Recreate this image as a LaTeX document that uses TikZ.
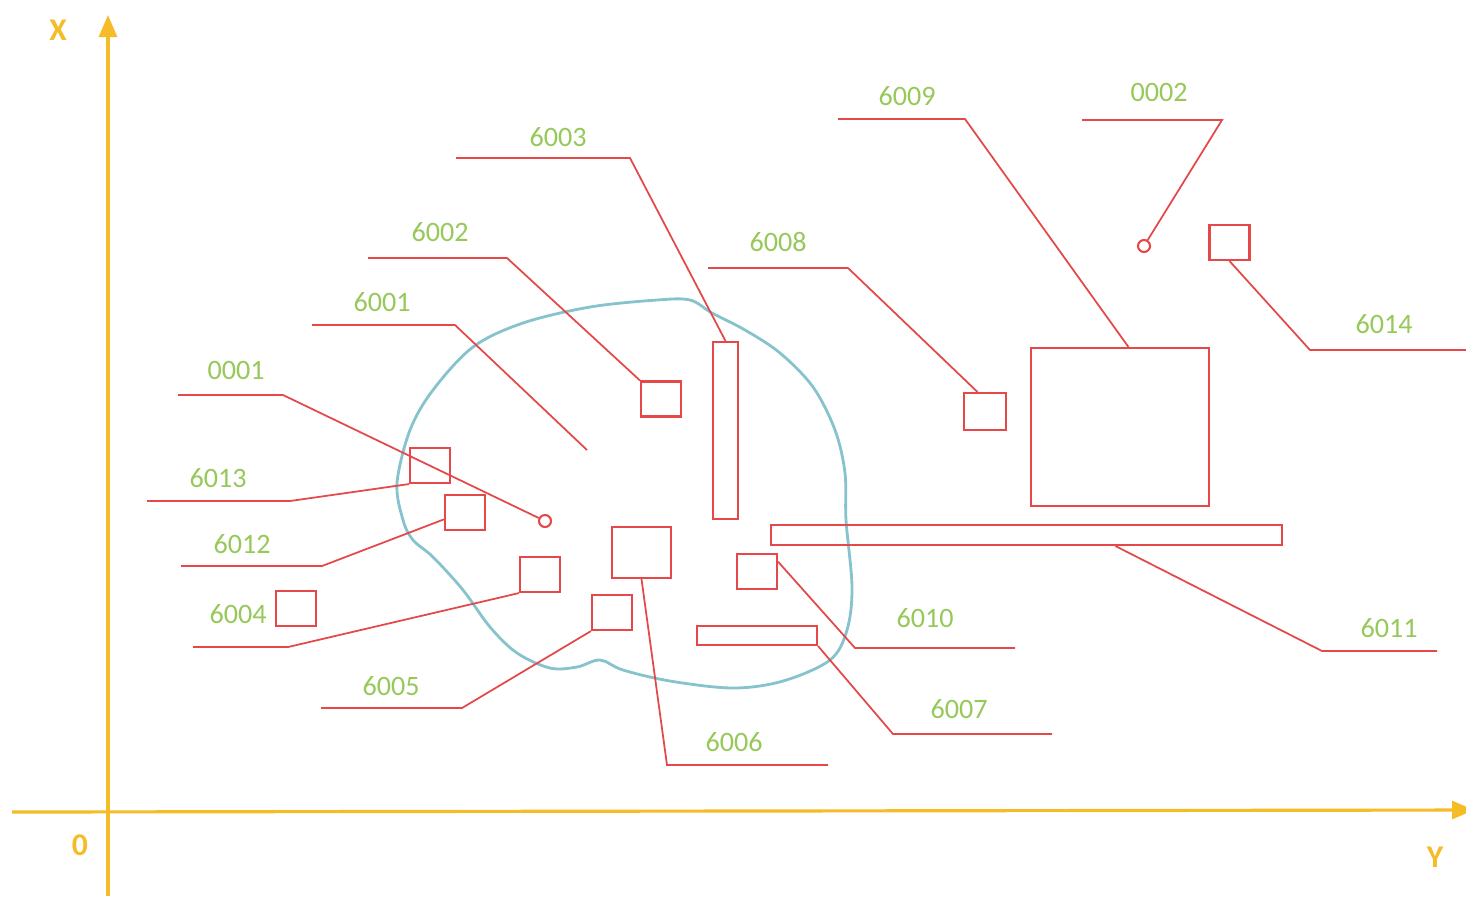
\documentclass[tikz,border=0pt]{standalone}
\usepackage{fontspec}
\setmainfont{Carlito}
\usepackage{tikz}
\usetikzlibrary{arrows.meta,calc}
\definecolor{axisgold}{RGB}{245,188,40}
\definecolor{partred}{RGB}{228,72,72}
\definecolor{numgreen}{RGB}{150,200,90}
\definecolor{zoneblue}{RGB}{135,195,205}
\tikzset{
  axis/.style={draw=axisgold, line width=0.9pt, -{Triangle[length=2.2mm,width=1.8mm]}},
  axlbl/.style={font=\fontsize{9}{10}\selectfont\bfseries, text=axisgold},
  part/.style={draw=partred, line width=0.6pt, inner sep=0pt},
  sq/.style={part, minimum width=4mm, minimum height=3.5mm},
  port/.style={circle, draw=partred, line width=0.6pt, minimum size=1.2mm, inner sep=0pt},
  lead/.style={draw=partred, line width=0.5pt},
  zone/.style={draw=zoneblue, line width=0.8pt},
  num/.style={font=\fontsize{8}{9}\selectfont, text=numgreen}
}

\begin{document}
\begin{tikzpicture}[x=0.1mm, y=-0.1mm]
        \useasboundingbox (0,0) rectangle (1466,896);
        % axes
        \coordinate (xfoot) at (108,896); \coordinate (xtip) at (108,15);
        \coordinate (yfoot) at (12,812); \coordinate (ytip) at (1474,810);
        \draw[axis] (xfoot) -- (xtip);
        \draw[axis] (yfoot) -- (ytip);
        \node[axlbl] (lx) at (58,30) {X};
        \node[axlbl] (lo) at (80,845) {0};
        \node[axlbl] (ly) at (1435,857) {Y};
        % zone
        \draw[zone] plot[smooth cycle, tension=0.55] coordinates {
          (690,300) (712,313) (745,330) (780,353) (813,387) (835,430) (845,473)
          (846,520) (852,587) (847,630) (830,660) (783,681) (733,688) (670,681)
          (623,670) (600,660) (577,667) (550,668) (517,653) (490,627) (463,590)
          (433,557) (413,540) (403,520) (397,483) (410,430) (433,390) (473,347)
          (523,323) (590,307) (657,300)};
        % parts
        \node[sq] (b6002) at (661,399) {};
        \node[part, minimum width=2.5mm, minimum height=17.7mm] (b6003) at (725.5,430.5) {};
        \node[part, minimum width=4.2mm, minimum height=3.7mm] (b6008) at (985,411.5) {};
        \node[part, minimum width=17.8mm, minimum height=15.8mm] (b6009) at (1120,427) {};
        \node[sq] (b6014) at (1229.5,242.5) {};
        \node[part, minimum width=51.1mm, minimum height=2mm] (b6011) at (1026.5,535) {};
        \node[sq] (b6010) at (757,571.5) {};
        \node[part, minimum width=12mm, minimum height=1.9mm] (b6007) at (757,635.5) {};
        \node[part, minimum width=5.9mm, minimum height=5.1mm] (b6006) at (641.5,552.5) {};
        \node[sq] (b6005) at (612,612.5) {};
        \node[sq] (b6004) at (540,574.5) {};
        \node[sq] (m6004) at (296,608.5) {};
        \node[sq] (b6012) at (465,512.5) {};
        \node[sq] (b6013) at (430,465.5) {};
        \node[port] (c0001) at (545,521) {};
        \node[port] (c0002) at (1144,246) {};
        % numbers
        \node[num] (t0001) at (236,370) {0001};
        \node[num] (t6013) at (218,478) {6013};
        \node[num] (t6012) at (242,544) {6012};
        \node[num] (t6004) at (238,614) {6004};
        \node[num] (t6005) at (391,686) {6005};
        \node[num] (t6006) at (734,742) {6006};
        \node[num] (t6007) at (959,709) {6007};
        \node[num] (t6010) at (925,618) {6010};
        \node[num] (t6011) at (1389,628) {6011};
        \node[num] (t6014) at (1384,324) {6014};
        \node[num] (t0002) at (1159,92) {0002};
        \node[num] (t6009) at (907,96) {6009};
        \node[num] (t6008) at (778,242) {6008};
        \node[num] (t6003) at (558,137) {6003};
        \node[num] (t6002) at (440,232) {6002};
        \node[num] (t6001) at (382,302) {6001};
        % leaders
        \coordinate (s0001) at (178,395); \coordinate (k0001) at (283,395);
        \coordinate (s6013) at (147,501); \coordinate (k6013) at (290,501);
        \coordinate (s6012) at (181,566); \coordinate (k6012) at (322,566);
        \coordinate (s6004) at (193,647); \coordinate (k6004) at (288,647);
        \coordinate (s6005) at (321,708); \coordinate (k6005) at (462,708);
        \coordinate (s6006) at (828,765); \coordinate (k6006) at (667,765);
        \coordinate (s6007) at (1052,734); \coordinate (k6007) at (893,734);
        \coordinate (s6010) at (1015,648); \coordinate (k6010) at (855,648);
        \coordinate (s6011) at (1437,651); \coordinate (k6011) at (1322,651);
        \coordinate (s6014) at (1466,350); \coordinate (k6014) at (1310,350);
        \coordinate (s0002) at (1082,120); \coordinate (k0002) at (1222,120);
        \coordinate (s6009) at (838,119); \coordinate (k6009) at (965,119);
        \coordinate (s6008) at (708,268); \coordinate (k6008) at (848,268);
        \coordinate (s6003) at (456,158); \coordinate (k6003) at (630,158);
        \coordinate (s6002) at (368,258); \coordinate (k6002) at (507,258);
        \coordinate (s6001) at (312,325); \coordinate (k6001) at (455,325);
        \coordinate (e6001) at (587,450);
        \draw[lead] (s0001) -- (k0001) -- (c0001);
        \draw[lead] (s6013) -- (k6013) -- (b6013.south west);
        \draw[lead] (s6012) -- (k6012) -- (b6012.198);
        \draw[lead] (s6004) -- (k6004) -- (b6004.south west);
        \draw[lead] (s6005) -- (k6005) -- (b6005.south west);
        \draw[lead] (s6006) -- (k6006) -- (b6006.south);
        \draw[lead] (s6007) -- (k6007) -- (b6007.south east);
        \draw[lead] (s6010) -- (k6010) -- (b6010.25);
        \draw[lead] (s6011) -- (k6011) -- ($(b6011.south)+(89,0)$);
        \draw[lead] (s6014) -- (k6014) -- (b6014.south);
        \draw[lead] (s0002) -- (k0002) -- (c0002);
        \draw[lead] (s6009) -- (k6009) -- (b6009.84);
        \draw[lead] (s6008) -- (k6008) -- (b6008.111);
        \draw[lead] (s6003) -- (k6003) -- (b6003.north);
        \draw[lead] (s6002) -- (k6002) -- (b6002.north west);
        \draw[lead] (s6001) -- (k6001) -- (e6001);
      \end{tikzpicture}
\end{document}
